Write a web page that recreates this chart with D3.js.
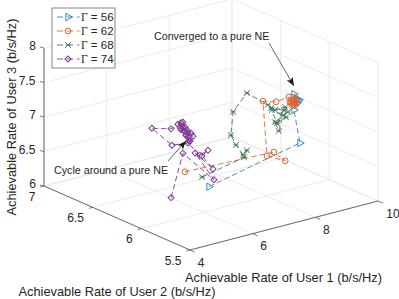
<!DOCTYPE html>
<html>
<head>
<meta charset="utf-8">
<script src="https://cdn.jsdelivr.net/npm/d3@7"></script>
<style>
    html, body { margin: 0; padding: 0; background: #fff; }
    text { font-family: "Liberation Sans", Arial, sans-serif; fill: #262626; }
</style>
</head>
<body>
<div id="chart"></div>
<script>
// [user 1, user 2, user 3] rates, depth along the view direction is estimated
const gamma56 = [[5.54,5.8,6.55],[8.44,5.8,6.84],[8.25,5.8,7.34],[8.38,5.8,7.46],[8.25,5.8,7.57],
    [8.32,5.8,7.49],[8.41,5.8,7.47],[8.35,5.8,7.43],[8.32,5.8,7.49]];
const gamma62 = [[5.39,6,6.66],[8.23,6,6.61],[8.59,6,6.44],[8.01,6,6.58],[7.88,6,7.39],[8.30,6,7.33],
    [8.71,6,7.35],[8.84,6,7.25],[8.78,6,7.30],[8.81,6,7.22],[8.87,6,7.27],[8.78,6,7.26],[8.84,6,7.29],[8.74,6,7.27],
    [8.90,6,7.20],[8.94,6,7.30],[8.97,6,7.23],[8.87,6,7.33],[8.90,6,7.26]];
const gamma68 = [[6.56,6.2,6.32],[7.90,6.2,6.45],[7.99,6.2,6.54],[7.87,6.2,6.49],[7.64,6.2,6.66],[7.48,6.2,6.82],
    [7.55,6.2,7.15],[7.99,6.2,7.37],[8.66,6.2,7.12],[8.89,6.2,7.02],[9.21,6.2,7.02],[9.30,6.2,6.94],[8.89,6.2,6.84],
    [9.01,6.2,6.70],[9.14,6.2,6.91],[8.79,6.2,7.03],[9.24,6.2,6.87],[8.95,6.2,6.82],[8.76,6.2,7.06],[9.17,6.2,6.98],[8.95,6.2,6.82]];
const gamma74 = [[5.57,6.2,6.14],[6.57,6.4,6.54],[7.56,6.4,6.04],[6.96,6.4,6.50],[7.53,6.4,6.20],[7.18,6.4,6.43],
    [7.37,6.4,6.49],[7.11,6.4,6.45],[6.73,6.4,6.67],[6.22,6.4,6.70],[5.58,6.4,7.02],[6.19,6.4,6.94],[6.51,6.4,6.99],
    [6.57,6.4,6.91],[6.70,6.4,6.86],[6.83,6.4,6.80],[6.67,6.4,6.79],[6.76,6.4,6.70],[6.73,6.4,6.76],[6.54,6.4,6.94],
    [6.60,6.4,6.86],[6.89,6.4,6.75],[6.80,6.4,6.69],[6.51,6.4,6.89],[6.67,6.4,6.79],
    [6.64,6.4,6.91],[6.41,6.4,6.98],[6.48,6.4,6.92],[6.73,6.4,6.82],[6.57,6.4,6.99]];
const seriesNames = ["56", "62", "68", "74"];
const seriesColors = ["#2f86c9", "#e0662f", "#47795f", "#7e3a96"];
const xTicks = [4, 6, 8, 10];
const yTicks = [5.5, 6, 6.5, 7];
const zTicks = [6, 6.5, 7, 7.5, 8];

const width = 399, height = 299;
const svg = d3.select("#chart").append("svg")
    .attr("width", width).attr("height", height)
    .style("display", "block");

// oblique projection of the 3d box
const xScale = d3.scaleLinear().domain([4, 10]).range([0, 1]);
const yScale = d3.scaleLinear().domain([5.5, 7]).range([0, 1]);
const zScale = d3.scaleLinear().domain([6, 8]).range([0, 1]);
function project(x, y, z) {
    const a = xScale(x), u = yScale(y), c = zScale(z);
    return [190 + 188 * a - 146 * u, 250 - 49 * a - 64 * u - 138 * c];
}

function seg(p, q, color, w) {
    svg.append("line")
        .attr("x1", p[0]).attr("y1", p[1]).attr("x2", q[0]).attr("y2", q[1])
        .attr("stroke", color).attr("stroke-width", w);
}

// grid on the floor and the two back walls
const gridColor = "#e6e6e6";
xTicks.forEach(x => {
    seg(project(x, 5.5, 6), project(x, 7, 6), gridColor, 0.8);
    seg(project(x, 7, 6), project(x, 7, 8), gridColor, 0.8);
});
yTicks.forEach(y => {
    seg(project(4, y, 6), project(10, y, 6), gridColor, 0.8);
    seg(project(10, y, 6), project(10, y, 8), gridColor, 0.8);
});
zTicks.forEach(z => {
    seg(project(4, 7, z), project(10, 7, z), gridColor, 0.8);
    seg(project(10, 7, z), project(10, 5.5, z), gridColor, 0.8);
});

// axes
const axisColor = "#595959";
seg(project(4, 5.5, 6), project(10, 5.5, 6), axisColor, 0.9);
seg(project(4, 5.5, 6), project(4, 7, 6), axisColor, 0.9);
seg(project(4, 7, 6), project(4, 7, 8), axisColor, 0.9);

function tickLabel(px, py, s) {
    svg.append("text").attr("x", px).attr("y", py)
        .attr("text-anchor", "middle").attr("dominant-baseline", "central")
        .style("font-size", "12px").text(s);
}
xTicks.forEach(x => {
    const p = project(x, 5.5, 6), q = project(x, 5.45, 6);
    seg(p, q, axisColor, 0.8);
    tickLabel(p[0] + (x === 10 ? 15 : 11), p[1] + 12.5, d3.format("d")(x));
});
yTicks.forEach(y => {
    const p = project(4, y, 6), q = project(3.88, y, 6);
    seg(p, q, axisColor, 0.8);
    tickLabel(p[0] - (y % 1 ? 17 : 12), p[1] + 10.5, String(y));
});
zTicks.forEach(z => {
    const p = project(4, 7, z);
    seg(p, [p[0] - 4, p[1] - 1], axisColor, 0.8);
    tickLabel(z % 1 ? p[0] - 17 : p[0] - 11.5, p[1] - 2, String(z));
});

svg.append("text").attr("x", 283.5).attr("y", 277)
    .attr("text-anchor", "middle").attr("dominant-baseline", "central")
    .style("font-size", "12.8px").text("Achievable Rate of User 1 (b/s/Hz)");
svg.append("text").attr("x", 117).attr("y", 291)
    .attr("text-anchor", "middle").attr("dominant-baseline", "central")
    .style("font-size", "12.8px").text("Achievable Rate of User 2 (b/s/Hz)");
svg.append("text").attr("transform", "translate(11,117) rotate(-90)")
    .attr("text-anchor", "middle").attr("dominant-baseline", "central")
    .style("font-size", "12.8px").text("Achievable Rate of User 3 (b/s/Hz)");

// markers
function drawMarker(g, i, px, py) {
    const color = seriesColors[i];
    const t = `translate(${px},${py})`;
    const sel = g.append("path").attr("fill", "none").attr("stroke", color).attr("stroke-width", 1);
    if (i === 0) {
        sel.attr("d", d3.symbol().type(d3.symbolTriangle).size(24)()).attr("transform", t + " rotate(90)");
    } else if (i === 1) {
        sel.attr("d", d3.symbol().type(d3.symbolCircle).size(26)()).attr("transform", t);
    } else if (i === 2) {
        sel.attr("d", d3.symbol().type(d3.symbolTimes).size(24)()).attr("transform", t);
        g.append("line").attr("x1", px - 2.5).attr("y1", py).attr("x2", px + 2.5).attr("y2", py)
            .attr("stroke", color).attr("stroke-width", 1);
    } else {
        sel.attr("d", d3.symbol().type(d3.symbolSquare).size(18)()).attr("transform", t + " rotate(45)");
    }
}

const line = d3.line().x(d => project(d[0], d[1], d[2])[0]).y(d => project(d[0], d[1], d[2])[1]);
[gamma56, gamma62, gamma68, gamma74].forEach((data, i) => {
    const g = svg.append("g");
    g.append("path").datum(data)
        .attr("d", line).attr("fill", "none")
        .attr("stroke", seriesColors[i]).attr("stroke-width", 0.9)
        .attr("stroke-dasharray", "5.5,3");
    data.forEach(d => {
        const p = project(d[0], d[1], d[2]);
        drawMarker(g, i, p[0], p[1]);
    });
});

// annotations
svg.append("defs").append("marker").attr("id", "head")
    .attr("viewBox", "0 0 10 8").attr("refX", 10).attr("refY", 4)
    .attr("markerWidth", 9).attr("markerHeight", 7).attr("markerUnits", "userSpaceOnUse")
    .attr("orient", "auto")
    .append("path").attr("d", "M0,0L10,4L0,8L2.5,4Z").attr("fill", "#1a1a1a");
function annotation(label, tx, ty, x1, y1, x2, y2) {
    svg.append("text").attr("x", tx).attr("y", ty).attr("dominant-baseline", "central")
        .style("font-size", "10.7px").text(label);
    svg.append("line").attr("x1", x1).attr("y1", y1).attr("x2", x2).attr("y2", y2)
        .attr("stroke", "#262626").attr("stroke-width", 0.7).attr("marker-end", "url(#head)");
}
annotation("Converged to a pure NE", 154, 36, 269, 43, 294, 86);
annotation("Cycle around a pure NE", 54, 170, 168, 161, 186, 141);

// legend
const legend = svg.append("g");
legend.append("rect").attr("x", 52).attr("y", 8).attr("width", 63).attr("height", 60)
    .attr("fill", "#fff").attr("stroke", "#7a7a7a").attr("stroke-width", 0.9);
seriesNames.forEach((name, i) => {
    const ly = 17 + i * 14;
    legend.append("line").attr("x1", 57).attr("x2", 79.5).attr("y1", ly).attr("y2", ly)
        .attr("stroke", seriesColors[i]).attr("stroke-width", 0.9)
        .attr("stroke-dasharray", "6,4");
    drawMarker(legend, i, 68, ly);
    const t = legend.append("text").attr("x", 81).attr("y", ly).attr("dominant-baseline", "central")
        .style("font-size", "11.5px");
    t.append("tspan").style("font-family", '"Liberation Serif", serif').text("Γ");
    t.append("tspan").text(" = " + name);
});
</script>
</body>
</html>
